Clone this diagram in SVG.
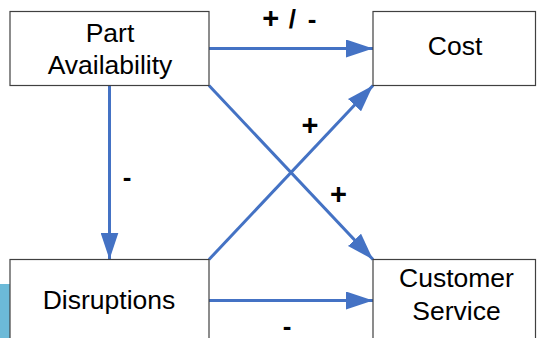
<svg xmlns="http://www.w3.org/2000/svg" width="537" height="338" viewBox="0 0 537 338">
  <style>
    .box { fill: #ffffff; stroke: #404040; stroke-width: 1.2; }
    .lbl { font-family: "Liberation Sans", Arial, sans-serif; font-size: 26.5px; fill: #000000; text-anchor: middle; }
    .sign { font-family: "Liberation Sans", Arial, sans-serif; font-size: 26px; font-weight: bold; fill: #000000; text-anchor: middle; }
    .plus { font-size: 29px; }
    .conn { fill: none; stroke: #4472c4; stroke-width: 3; marker-end: url(#arrow); }
  </style>
  <defs>
    <marker id="arrow" viewBox="0 0 9 6" refX="9" refY="3" markerWidth="9" markerHeight="6" markerUnits="strokeWidth" orient="auto">
      <path d="M0,0 L9,3 L0,6 Z" fill="#4472c4"/>
    </marker>
  </defs>
  <rect x="0" y="284" width="10" height="54" fill="#6cbad8"/>
  <g id="connectors">
    <line class="conn" x1="209" y1="48.5" x2="373" y2="48.5"/>
    <line class="conn" x1="109.5" y1="85.5" x2="109.5" y2="259.5"/>
    <line class="conn" x1="209" y1="85.5" x2="373" y2="259.5"/>
    <line class="conn" x1="209" y1="259.5" x2="373" y2="85.5"/>
    <line class="conn" x1="209" y1="300.5" x2="373" y2="300.5"/>
  </g>
  <g id="part-availability">
    <rect class="box" x="10" y="11.5" width="199" height="74"/>
    <text class="lbl" x="110" y="41.5">Part</text>
    <text class="lbl" x="110" y="74">Availability</text>
  </g>
  <g id="cost">
    <rect class="box" x="373" y="11.5" width="162.5" height="74"/>
    <text class="lbl" x="455" y="54.5">Cost</text>
  </g>
  <g id="disruptions">
    <rect class="box" x="10" y="259.5" width="199" height="100"/>
    <text class="lbl" x="109" y="308.5">Disruptions</text>
  </g>
  <g id="customer-service">
    <rect class="box" x="373" y="259.5" width="162.5" height="100"/>
    <text class="lbl" x="456.5" y="286.5">Customer</text>
    <text class="lbl" x="456.5" y="319.5">Service</text>
  </g>
  <g id="labels">
    <text class="sign" y="27.5"><tspan class="plus" x="270.7">+</tspan><tspan x="292.3">/</tspan><tspan x="312.2">-</tspan></text>
    <text class="sign plus" x="310" y="134.5">+</text>
    <text class="sign plus" x="338.5" y="204">+</text>
    <text class="sign" x="127" y="185.5">-</text>
    <text class="sign" x="287" y="335">-</text>
  </g>
</svg>
